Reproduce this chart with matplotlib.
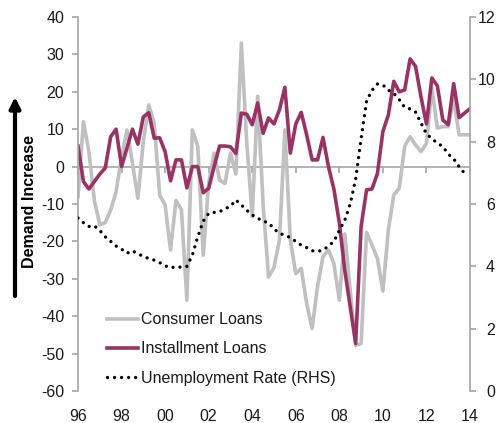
import numpy as np
import matplotlib
matplotlib.use("Agg")
import matplotlib.pyplot as plt

plt.rcParams['font.family'] = ['Liberation Sans', 'DejaVu Sans']
plt.rcParams['axes.unicode_minus'] = False
plt.rcParams['font.size'] = 11.5

# quarterly observations, 1996Q1 .. 2014Q1
quarters = 1996 + 0.25 * np.arange(73)

consumer = [-8, 12, 4, -9, -15.6, -15, -11.6, -6.7, 2.7, 9.8,
            0.9, -8.5, 6.7, 16.5, 11.6, -7.6, -10.3, -22.3, -9, -11.6,
            -35.7, 9.8, 5.4, -23.7, -4.5, 3.6, -3.6, -4.5, 3.6, -2,
            33, 6.3, -13.4, 18.8, -10, -29.5, -27, -19.6, 9.8, -19.6,
            -28.6, -27.2, -36.6, -43.3, -32, -24.1, -22.3, -25.9, -35.7, -18,
            -33, -47.8, -47.3, -17.6, -21, -24.6, -33.3, -17, -7.6, -5.8,
            5.4, 8, 5.8, 4, 6.2, 21, 10.3, 10.7, 10.7, 17.9,
            8.5, 8.5, 8.5]

installment = [5.5, -4, -6, -4, -2, -0.4, 8, 10, 0, 5,
               10, 6, 13.3, 14.4, 7.6, 7.7, 4, -3.8, 1.8, 1.8,
               -5.7, 0, 0, -7, -5.8, 0, 5.5, 5.5, 5.3, 3.5,
               14.3, 14, 11.2, 17, 8.9, 13, 11.4, 15.2, 21.2, 3.6,
               11.4, 14.5, 8.5, 1.8, 1.8, 7.8, 0, -6, -15, -27.7,
               -37.5, -47.3, -16, -6.2, -6, -1.8, 9.4, 13.8, 22.8, 20,
               20.5, 28.8, 26.8, 18.6, 11.4, 23.7, 21.6, 12.5, 11.2, 22.2,
               13.1, 14.3, 15.5]

# unemployment rate (RHS), ends one quarter earlier
unemployment = [5.55, 5.4, 5.28, 5.3, 5.15, 4.95, 4.8, 4.65, 4.55, 4.42,
                4.5, 4.4, 4.32, 4.25, 4.2, 4.12, 4.02, 3.95, 3.99, 3.97,
                4.0, 4.36, 4.95, 5.45, 5.7, 5.73, 5.75, 5.85, 5.92, 6.13,
                5.97, 5.8, 5.65, 5.54, 5.45, 5.4, 5.2, 5.06, 5.0, 4.92,
                4.8, 4.68, 4.6, 4.5, 4.48, 4.52, 4.65, 4.8, 5.15, 5.48,
                6.0, 6.8, 8.1, 9.3, 9.65, 9.85, 9.82, 9.65, 9.55, 9.35,
                9.1, 9.05, 8.95, 8.6, 8.25, 8.1, 7.95, 7.85, 7.6, 7.45,
                7.2, 6.98]

year_ticks = list(range(1996, 2015, 2))
year_labels = ['96', '98', '00', '02', '04', '06', '08', '10', '12', '14']

grey = '#c0c0c0'
purple = '#993366'
spine_col = '#a6a6a6'
txt = '#1a1a1a'

fig = plt.figure(figsize=(4.98, 4.23), dpi=100)
ax = fig.add_axes([78 / 498, 1 - 391 / 423, 392 / 498, 374 / 423])

l1, = ax.plot(quarters, consumer, color=grey, lw=2.6, label='Consumer Loans')
l2, = ax.plot(quarters, installment, color=purple, lw=2.6, label='Installment Loans')

ax.set_xlim(1996, 2014)
ax.set_ylim(-60, 40)
ax.set_yticks(range(-60, 41, 10))
ax.set_xticks(year_ticks)
ax.set_xticklabels(year_labels)
for s in ['top', 'right', 'bottom']:
    ax.spines[s].set_visible(False)
ax.spines['left'].set_color(spine_col)
ax.spines['left'].set_linewidth(1.2)
ax.tick_params(axis='y', direction='out', length=4, width=1.2, color=spine_col,
               labelcolor=txt, pad=6)
ax.tick_params(axis='x', length=0, pad=13, labelcolor=txt)

# zero line with the year ticks
sec = ax.secondary_xaxis(0.6)
sec.set_alignment('bottom')
sec.set_xticks(year_ticks)
sec.set_xticklabels([])
sec.spines['bottom'].set_color(spine_col)
sec.spines['bottom'].set_linewidth(1.2)
sec.tick_params(axis='x', direction='out', length=4, width=1.2, color=spine_col)

ax2 = ax.twinx()
l3, = ax2.plot(quarters[:len(unemployment)], unemployment, color='black', lw=2.4,
               linestyle=(0, (0.01, 2.1)), dash_capstyle='round',
               label='Unemployment Rate (RHS)')
ax2.set_ylim(0, 12)
ax2.set_yticks(range(0, 13, 2))
for s in ['top', 'left', 'bottom']:
    ax2.spines[s].set_visible(False)
ax2.spines['right'].set_color(spine_col)
ax2.spines['right'].set_linewidth(1.2)
ax2.tick_params(axis='y', direction='out', length=4, width=1.2, color=spine_col,
                labelcolor=txt, pad=14)
for lab in ax2.get_yticklabels():
    lab.set_ha('right')

ax2.legend(handles=[l1, l2, l3], loc='upper left', bbox_to_anchor=(0.058, 0.228),
           frameon=False, handlelength=1.95, handletextpad=0.2, labelspacing=0.9,
           borderaxespad=0, fontsize=11.5, labelcolor=txt)

fig.text(29 / 498, 1 - 202 / 423, 'Demand Increase', rotation=90, ha='center',
         va='center', fontweight='bold', fontsize=11.5, color='black')
ax.annotate('', xy=(15, 423 - 97), xytext=(15, 423 - 296), xycoords='figure pixels',
            textcoords='figure pixels', annotation_clip=False,
            arrowprops=dict(arrowstyle='-|>', lw=3, color='black',
                            mutation_scale=16, shrinkA=0, shrinkB=0))

fig.savefig('out.png', dpi=100)
